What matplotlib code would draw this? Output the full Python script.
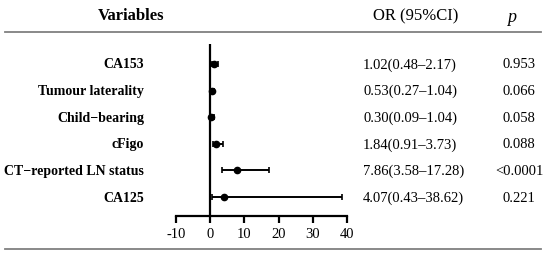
import numpy as np
import matplotlib.pyplot as plt
import matplotlib.transforms as mtransforms

variables = ["CA153", "Tumour laterality", "Child\u2212bearing", "cFigo",
             "CT\u2212reported LN status", "CA125"]
odds = [1.02, 0.53, 0.30, 1.84, 7.86, 4.07]
ci_low = [0.48, 0.27, 0.09, 0.91, 3.58, 0.43]
ci_high = [2.17, 1.04, 1.04, 3.73, 17.28, 38.62]
p_text = ["0.953", "0.066", "0.058", "0.088", "<0.0001", "0.221"]
xticks = [-10, 0, 10, 20, 30, 40]

plt.rcParams['font.family'] = ['Liberation Serif', 'DejaVu Serif']

W, H = 550, 255
fig = plt.figure(figsize=(W / 100, H / 100), dpi=100)

def px(x, y):
    return x / W, 1 - y / H

ax_l, ax_b = px(176, 217)
ax_r, ax_t = px(347, 45)
ax = fig.add_axes([ax_l, ax_b, ax_r - ax_l, ax_t - ax_b])

n = len(variables)
ypos = np.arange(n, 0, -1)
odds = np.array(odds)
err = [odds - np.array(ci_low), np.array(ci_high) - odds]

ax.axvline(0, color='black', lw=1.6, zorder=1)
ax.errorbar(odds, ypos, xerr=err, fmt='o', color='black', ms=4.5,
            elinewidth=1.4, capsize=2.5, capthick=1.2, zorder=3)

ax.set_xlim(-10, 40)
ax.set_ylim(0.29, 6.75)
ax.set_xticks(xticks)
ax.set_xticklabels([str(t) for t in xticks], fontsize=10.5)
ax.set_yticks([])
for s in ['left', 'right', 'top']:
    ax.spines[s].set_visible(False)
ax.spines['bottom'].set_linewidth(1.6)
ax.tick_params(axis='x', direction='out', length=5, width=1.6, pad=3)

trans = mtransforms.blended_transform_factory(fig.transFigure, ax.transData)
for i in range(n):
    y = ypos[i]
    ax.text(144 / W, y, variables[i], transform=trans, ha='right', va='center',
            fontsize=10, fontweight='bold')
    ax.text(363 / W, y, f"{odds[i]:.2f}({ci_low[i]:.2f}\u2013{ci_high[i]:.2f})",
            transform=trans, ha='left', va='center', fontsize=10.5)
    ax.text(519 / W, y, p_text[i], transform=trans, ha='center', va='center',
            fontsize=10.5)

fig.text(*px(131, 16), "Variables", ha='center', va='center', fontsize=12,
         fontweight='bold')
fig.text(*px(416, 16), "OR (95%CI)", ha='center', va='center', fontsize=12)
fig.text(*px(512, 17), "p", ha='center', va='center', fontsize=13, style='italic')

for yy in [33, 250]:
    x0, y0 = px(5, yy)
    x1, _ = px(541, yy)
    fig.add_artist(plt.Line2D([x0, x1], [y0, y0], color='#808080', lw=1.3,
                              transform=fig.transFigure))

fig.savefig("out.png", dpi=100)
